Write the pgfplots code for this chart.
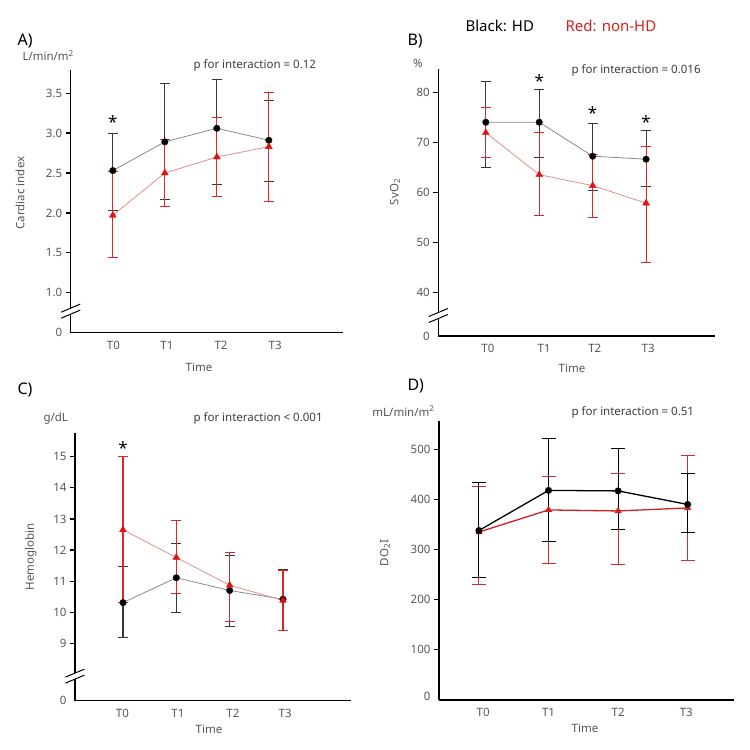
\documentclass[border=0pt]{standalone}
\usepackage{pgfplots}
\pgfplotsset{compat=1.18}
\usepackage{pgfplotstable}
\usepackage{fontspec}
\setmainfont{Noto Sans}

\definecolor{hdbar}{HTML}{383838}
\definecolor{hdline}{HTML}{8A8A8A}
\definecolor{nhdbar}{HTML}{D62A2A}
\definecolor{nhdline}{HTML}{E38C8C}
\definecolor{nhdmark}{HTML}{E01010}
\definecolor{dred}{HTML}{D42020}
\definecolor{labgray}{HTML}{555555}
\definecolor{pgray}{HTML}{3C3C3C}

% ---- A) cardiac index (L/min/m^2): mean, upper and lower bar end
\pgfplotstableread{
x y hi lo
0 2.53 2.99 2.03
1 2.89 3.62 2.17
2 3.06 3.67 2.35
3 2.91 3.41 2.39
}\ciHD
\pgfplotstableread{
x y hi lo
0 1.97 2.52 1.44
1 2.50 2.92 2.08
2 2.70 3.20 2.20
3 2.83 3.51 2.14
}\ciNHD
% ---- B) SvO2 (%)
\pgfplotstableread{
x y hi lo
0 74.1 82.3 65.1
1 74.1 80.7 67.1
2 67.3 73.9 60.4
3 66.7 72.4 61.2
}\svHD
\pgfplotstableread{
x y hi lo
0 72.0 77.1 67.0
1 63.6 72.1 55.4
2 61.4 67.6 55.0
3 57.9 69.2 46.0
}\svNHD
% ---- C) hemoglobin (g/dL)
\pgfplotstableread{
x y hi lo
0 10.31 11.47 9.18
1 11.11 12.22 9.98
2 10.70 11.82 9.55
3 10.42 11.39 9.43
}\hbHD
\pgfplotstableread{
x y hi lo
0 12.65 15.00 10.31
1 11.76 12.94 10.60
2 10.87 11.91 9.71
3 10.38 11.33 9.43
}\hbNHD
% ---- D) DO2I (mL/min/m^2)
\pgfplotstableread{
x y hi lo
0 338 433 245
1 418 522 317
2 417 501 340
3 390 451 334
}\doHD
\pgfplotstableread{
x y hi lo
0 335 425 231
1 379 445 273
2 377 452 271
3 383 488 278
}\doNHD

\pgfplotsset{
  panel/.style={
    scale only axis, anchor=south west, clip=false,
    axis x line=bottom, axis y line=left,
    axis line style={line width=1.6pt, -},
    tick align=outside, major tick length=5pt,
    ytick style={line width=1.2pt, color=black},
    xtick style={draw=none},
    tick label style={font=\fontsize{11.5}{13}\selectfont, text=labgray},
    xticklabels={T0,T1,T2,T3},
    extra y tick style={tick style={draw=none}},
  },
  bars/.style 2 args={
    error bars/y dir=both, error bars/y explicit,
    error bars/error bar style={line width=1.1pt, draw=#1},
    error bars/error mark options={line width=1pt, draw=#1, mark size=#2, rotate=90},
  },
  hd/.style={draw=hdline, line width=0.8pt, mark=*, mark size=3.3pt,
    mark options={fill=black, draw=black, line width=0.3pt}, bars={hdbar}{5pt}},
  nhd/.style={draw=nhdline, line width=0.8pt, mark=triangle*, mark size=4pt,
    mark options={fill=nhdmark, draw=nhdmark, line width=0.3pt}, bars={nhdbar}{5pt}},
}
% broken-axis marker centred on the y axis at the given coordinate
\newcommand\axisbreak[1]{%
  \fill[white] ([xshift=-2pt,yshift=-3pt]#1) rectangle ([xshift=2pt,yshift=3pt]#1);
  \draw[line width=1pt] ([xshift=-9.5pt,yshift=-1pt]#1) -- ([xshift=9.5pt,yshift=7pt]#1);
  \draw[line width=1pt] ([xshift=-9.5pt,yshift=-7pt]#1) -- ([xshift=9.5pt,yshift=1pt]#1);
}
\newcommand\sigstar[1]{\node[font=\fontsize{17}{17}\selectfont, yshift=-3pt] at (#1) {*};}
\newcommand\lab{\fontsize{11.5}{13}\selectfont}

\begin{document}
\begin{tikzpicture}
\path (0pt,0pt) rectangle (750pt,750pt);

% group key
\node[anchor=west, font=\fontsize{15}{17}\selectfont] at (462pt,724pt) {Black: HD};
\node[anchor=west, font=\fontsize{15}{17}\selectfont, text=dred] at (562pt,724pt) {Red: non-HD};

% ================= A
\begin{axis}[panel, at={(70.7pt,417.3pt)}, width=272pt, height=262.7pt,
  xmin=-0.81, xmax=4.42, ymin=0.5, ymax=3.79,
  xtick={0.01,1.04,2.08,3.12},
  ytick={1,1.5,2,2.5,3,3.5}, yticklabels={1.0,1.5,2.0,2.5,3.0,3.5},
  extra y ticks={0.5}, extra y tick labels={0}]
\addplot[hd] table[x=x, y=y, y error plus expr=\thisrow{hi}-\thisrow{y}, y error minus expr=\thisrow{y}-\thisrow{lo}] {\ciHD};
\addplot[nhd] table[x=x, y=y, y error plus expr=\thisrow{hi}-\thisrow{y}, y error minus expr=\thisrow{y}-\thisrow{lo}] {\ciNHD};
\sigstar{axis cs:0,3.17}
\axisbreak{axis cs:-0.81,0.77}
\end{axis}
\node[anchor=west, font=\fontsize{16}{18}\selectfont] at (14pt,709pt) {A)};
\node[anchor=west, font=\lab, text=labgray] at (19pt,694.5pt) {L/min/m\textsuperscript{2}};
\node[anchor=west, font=\lab, text=pgray] at (190pt,685pt) {p for interaction = 0.12};
\node[rotate=90, font=\lab, text=labgray] at (20pt,557pt) {Cardiac index};
\node[font=\lab, text=labgray] at (199pt,383pt) {Time};

% ================= B
\begin{axis}[panel, at={(438.3pt,414pt)}, width=276.7pt, height=266.7pt,
  xmin=-0.89, xmax=4.29, ymin=31.3, ymax=84.7,
  xtick={0.04,1.09,2.04,3.04},
  ytick={40,50,60,70,80}, yticklabels={40,50,60,70,80},
  extra y ticks={31.3}, extra y tick labels={0}]
\addplot[hd] table[x=x, y=y, y error plus expr=\thisrow{hi}-\thisrow{y}, y error minus expr=\thisrow{y}-\thisrow{lo}] {\svHD};
\addplot[nhd] table[x=x, y=y, y error plus expr=\thisrow{hi}-\thisrow{y}, y error minus expr=\thisrow{y}-\thisrow{lo}] {\svNHD};
\sigstar{axis cs:1,82.9}
\sigstar{axis cs:2,76.5}
\sigstar{axis cs:3,74.7}
\axisbreak{axis cs:-0.89,35.4}
\end{axis}
\node[anchor=west, font=\fontsize{16}{18}\selectfont] at (404pt,709pt) {B)};
\node[font=\lab, text=labgray] at (418pt,687pt) {\%};
\node[anchor=west, font=\lab, text=pgray] at (568pt,680pt) {p for interaction = 0.016};
\node[rotate=90, font=\lab, text=labgray] at (395pt,558pt) {SvO\textsubscript{2}};
\node[font=\lab, text=labgray] at (572pt,382pt) {Time};

% ================= C
\begin{axis}[panel, at={(75pt,49.3pt)}, width=275.7pt, height=267.4pt,
  xmin=-0.9, xmax=4.27, ymin=7.16, ymax=15.75,
  xtick={-0.01,1.03,2.06,3.04},
  ytick={9,10,11,12,13,14,15}, yticklabels={9,10,11,12,13,14,15},
  extra y ticks={7.16}, extra y tick labels={0}]
\addplot[hd] table[x=x, y=y, y error plus expr=\thisrow{hi}-\thisrow{y}, y error minus expr=\thisrow{y}-\thisrow{lo}] {\hbHD};
\addplot[nhd] table[x=x, y=y, y error plus expr=\thisrow{hi}-\thisrow{y}, y error minus expr=\thisrow{y}-\thisrow{lo}] {\hbNHD};
\sigstar{axis cs:0,15.38}
\axisbreak{axis cs:-0.9,7.95}
\end{axis}
\node[anchor=west, font=\fontsize{16}{18}\selectfont] at (14pt,360pt) {C)};
\node[anchor=west, font=\lab, text=labgray] at (40pt,331pt) {g/dL};
\node[anchor=west, font=\lab, text=pgray] at (190pt,332pt) {p for interaction < 0.001};
\node[rotate=90, font=\lab, text=labgray] at (31pt,193pt) {Hemoglobin};
\node[font=\lab, text=labgray] at (209pt,21pt) {Time};

% ================= D
\begin{axis}[panel, at={(439pt,50pt)}, width=295.3pt, height=279.3pt,
  xmin=-0.574, xmax=3.67, ymin=0, ymax=557,
  xtick={0.06,1,2,2.98},
  ytick={100,200,300,400,500}, yticklabels={100,200,300,400,500},
  extra y ticks={0}, extra y tick labels={0},
  extra y tick style={tick style={draw=none}, yticklabel style={yshift=4pt}}]
\addplot[nhd, draw=dred, line width=1.3pt, mark size=3pt,
  mark options={fill=dred, draw=dred}, bars={nhdbar}{7pt}]
  table[x=x, y=y, y error plus expr=\thisrow{hi}-\thisrow{y}, y error minus expr=\thisrow{y}-\thisrow{lo}] {\doNHD};
\addplot[hd, draw=black, line width=1.3pt, mark size=3.3pt, bars={black}{7pt}]
  table[x=x, y=y, y error plus expr=\thisrow{hi}-\thisrow{y}, y error minus expr=\thisrow{y}-\thisrow{lo}] {\doHD};
\end{axis}
\node[anchor=west, font=\fontsize{16}{18}\selectfont] at (404pt,364pt) {D)};
\node[anchor=east, font=\lab, text=labgray] at (438pt,339pt) {mL/min/m\textsuperscript{2}};
\node[anchor=west, font=\lab, text=pgray] at (568pt,338pt) {p for interaction = 0.51};
\node[rotate=90, font=\lab, text=labgray] at (385pt,197pt) {DO\textsubscript{2}I};
\node[font=\lab, text=labgray] at (585pt,22pt) {Time};
\end{tikzpicture}
\end{document}
